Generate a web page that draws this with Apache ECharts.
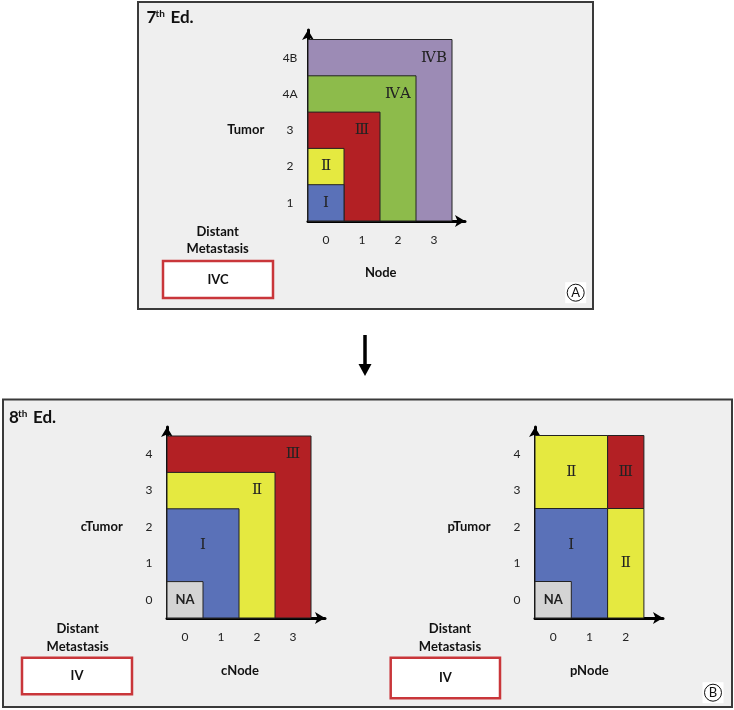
<!DOCTYPE html>
<html>
<head>
<meta charset="utf-8">
<script src="https://cdn.jsdelivr.net/npm/echarts@6/dist/echarts.min.js"></script>
<style>
  html, body { margin: 0; padding: 0; background: #fff; }
  #chart { width: 734px; height: 710px; }
</style>
</head>
<body>
<div id="chart"></div>
<script>
// 7th edition: T (1..4B) x N (0..3)
const tumor7 = ['1', '2', '3', '4A', '4B'];
const node7 = ['0', '1', '2', '3'];
const stage7 = ['ⅣB', 'ⅣA', 'Ⅲ', 'Ⅱ', 'Ⅰ'];
const nodeFrom7 = [0, 0, 0, 0, 0];
const nodeTo7 = [3, 2, 1, 0, 0];
const tumorFrom7 = [0, 0, 0, 0, 0];
const tumorTo7 = [4, 3, 2, 1, 0];
const labelNode7 = [3, 2, 1, 0, 0];
const labelTumor7 = [4, 3, 2, 1, 0];

// 8th edition, clinical
const tumorC = ['0', '1', '2', '3', '4'];
const nodeC = ['0', '1', '2', '3'];
const stageC = ['Ⅲ', 'Ⅱ', 'Ⅰ', 'NA'];
const nodeFromC = [0, 0, 0, 0];
const nodeToC = [3, 2, 1, 0];
const tumorFromC = [0, 0, 0, 0];
const tumorToC = [4, 3, 2, 0];
const labelNodeC = [3, 2, 0.5, 0];
const labelTumorC = [4, 3, 1.5, 0];

// 8th edition, pathological
const tumorP = ['0', '1', '2', '3', '4'];
const nodeP = ['0', '1', '2'];
const stageP = ['Ⅰ', 'Ⅱ', 'Ⅲ', 'Ⅱ', 'NA'];
const nodeFromP = [0, 0, 2, 2, 0];
const nodeToP = [1, 1, 2, 2, 0];
const tumorFromP = [0, 3, 3, 0, 0];
const tumorToP = [2, 4, 4, 2, 0];
const labelNodeP = [0.5, 0.5, 2, 2, 0];
const labelTumorP = [1.5, 3.5, 3.5, 1, 0];

const stageColors = {
    'Ⅰ': '#5a71b8',
    'Ⅱ': '#e5e940',
    'Ⅲ': '#b32024',
    'ⅣA': '#8dbb4b',
    'ⅣB': '#9c8bb5',
    'NA': '#d4d4d4'
};

const sans = 'Lato, "Open Sans", sans-serif';

function buildData(nFrom, nTo, tFrom, tTo, lN, lT) {
    return nFrom.map((v, i) => [v, nTo[i], tFrom[i], tTo[i], lN[i], lT[i]]);
}

function cellSeries(gridIdx, stages, data) {
    return {
        type: 'custom',
        coordinateSystem: 'cartesian2d',
        xAxisIndex: gridIdx,
        yAxisIndex: gridIdx,
        data: data,
        renderItem: function (params, api) {
            const p0 = api.coord([api.value(0) - 0.5, api.value(2) - 0.5]);
            const p1 = api.coord([api.value(1) + 0.5, api.value(3) + 0.5]);
            const lp = api.coord([api.value(4), api.value(5)]);
            const name = stages[params.dataIndex];
            const isNA = name === 'NA';
            return {
                type: 'group',
                children: [
                    {
                        type: 'rect',
                        shape: { x: p0[0], y: p1[1], width: p1[0] - p0[0], height: p0[1] - p1[1] },
                        style: { fill: stageColors[name], stroke: '#222', lineWidth: 1 }
                    },
                    {
                        type: 'text',
                        x: lp[0],
                        y: lp[1],
                        style: {
                            text: name,
                            fill: '#222',
                            align: 'center',
                            verticalAlign: 'middle',
                            font: isNA ? 'bold 13px ' + sans : '15px "DejaVu Serif", serif'
                        }
                    }
                ]
            };
        }
    };
}

function xAxisFor(gridIdx, labels, max) {
    return {
        type: 'value',
        gridIndex: gridIdx,
        min: -0.5,
        max: max,
        splitLine: { show: false },
        axisTick: { show: false },
        axisLine: { show: true, onZero: false, symbol: ['none', 'arrow'], symbolSize: [9, 10], lineStyle: { color: '#000', width: 3 } },
        axisLabel: {
            customValues: labels.map((l, i) => i),
            formatter: v => labels[Math.round(v)],
            color: '#222', fontSize: 12, fontFamily: sans, margin: 13
        }
    };
}

function yAxisFor(gridIdx, labels, max) {
    return {
        type: 'value',
        gridIndex: gridIdx,
        min: -0.5,
        max: max,
        splitLine: { show: false },
        axisTick: { show: false },
        axisLine: { show: true, onZero: false, symbol: ['none', 'arrow'], symbolSize: [9, 10], lineStyle: { color: '#000', width: 3 } },
        axisLabel: {
            customValues: labels.map((l, i) => i),
            formatter: v => labels[Math.round(v)],
            color: '#222', fontSize: 12, fontFamily: sans, margin: 18, align: 'center'
        }
    };
}

function txt(x, y, text, size, opts) {
    return Object.assign({
        type: 'text', x: x, y: y, z: 100,
        style: { text: text, font: 'bold ' + size + 'px ' + sans, fill: '#111', align: 'center', verticalAlign: 'middle' }
    }, opts || {});
}

function stageBox(x, y, w, h, label) {
    return [
        { type: 'rect', z: 100, shape: { x: x, y: y, width: w, height: h }, style: { fill: '#fff', stroke: '#c9363a', lineWidth: 2.5 } },
        txt(x + w / 2, y + h / 2, label, 13)
    ];
}

function circled(x, y, letter) {
    return [
        { type: 'rect', z: 100, shape: { x: x - 10.5, y: y - 10.5, width: 21, height: 21 }, style: { fill: '#fff' } },
        { type: 'circle', z: 101, shape: { cx: x, cy: y, r: 8.5 }, style: { fill: 'none', stroke: '#111', lineWidth: 1 } },
        { type: 'text', z: 102, x: x, y: y + 0.5, style: { text: letter, font: '13px ' + sans, fill: '#111', align: 'center', verticalAlign: 'middle' } }
    ];
}

function edition(x, y, num) {
    return [
        { type: 'text', z: 100, x: x, y: y, style: { text: num, font: 'bold 17px ' + sans, fill: '#111', verticalAlign: 'middle' } },
        { type: 'text', z: 100, x: x + 9, y: y - 4.5, style: { text: 'th', font: 'bold 10px ' + sans, fill: '#111', verticalAlign: 'middle' } },
        { type: 'text', z: 100, x: x + 24, y: y, style: { text: 'Ed.', font: 'bold 17px ' + sans, fill: '#111', verticalAlign: 'middle' } }
    ];
}

const graphics = [
    // panels
    { type: 'rect', z: -10, shape: { x: 138, y: 2, width: 455, height: 307 }, style: { fill: '#efefef', stroke: '#3a3a3a', lineWidth: 2 } },
    { type: 'rect', z: -10, shape: { x: 3, y: 399.5, width: 729, height: 307.5 }, style: { fill: '#efefef', stroke: '#3a3a3a', lineWidth: 2 } },
    // arrow between panels
    { type: 'line', z: 100, shape: { x1: 365, y1: 335, x2: 365, y2: 366 }, style: { stroke: '#000', lineWidth: 3.5 } },
    { type: 'polygon', z: 100, shape: { points: [[358.5, 364], [371.5, 364], [365, 376]] }, style: { fill: '#000' } },

    ...edition(146.5, 18, '7'),
    txt(245.7, 130, 'Tumor', 13),
    txt(380.7, 273, 'Node', 13),
    txt(217.7, 232.3, 'Distant', 13),
    txt(217.7, 249.3, 'Metastasis', 13),
    ...stageBox(163, 261, 110, 37, 'IVC'),
    ...circled(575.7, 292.7, 'A'),

    ...edition(9, 418, '8'),
    txt(101.7, 526.7, 'cTumor', 13),
    txt(240, 671, 'cNode', 13),
    txt(77.7, 629, 'Distant', 13),
    txt(77.7, 646.7, 'Metastasis', 13),
    ...stageBox(22, 657.7, 110, 36.6, 'IV'),

    txt(469, 527, 'pTumor', 13),
    txt(589.3, 671, 'pNode', 13),
    txt(450, 629, 'Distant', 13),
    txt(450, 646.7, 'Metastasis', 13),
    ...stageBox(390.7, 657.7, 109.3, 40.6, 'IV'),
    ...circled(713, 692.7, 'B')
];

const chart = echarts.init(document.getElementById('chart'), null, { renderer: 'canvas' });

chart.setOption({
    animation: false,
    backgroundColor: '#fff',
    grid: [
        { left: 308, top: 30, width: 157, height: 191 },
        { left: 167, top: 427, width: 158, height: 191 },
        { left: 535, top: 427, width: 128, height: 191 }
    ],
    xAxis: [
        xAxisFor(0, node7, -0.5 + 157 / 36),
        xAxisFor(1, nodeC, -0.5 + 158 / 36),
        xAxisFor(2, nodeP, -0.5 + 128 / 36.3)
    ],
    yAxis: [
        yAxisFor(0, tumor7, -0.5 + 191 / 36.3),
        yAxisFor(1, tumorC, -0.5 + 191 / 36.4),
        yAxisFor(2, tumorP, -0.5 + 191 / 36.5)
    ],
    graphic: graphics,
    series: [
        cellSeries(0, stage7, buildData(nodeFrom7, nodeTo7, tumorFrom7, tumorTo7, labelNode7, labelTumor7)),
        cellSeries(1, stageC, buildData(nodeFromC, nodeToC, tumorFromC, tumorToC, labelNodeC, labelTumorC)),
        cellSeries(2, stageP, buildData(nodeFromP, nodeToP, tumorFromP, tumorToP, labelNodeP, labelTumorP))
    ]
});
</script>
</body>
</html>
